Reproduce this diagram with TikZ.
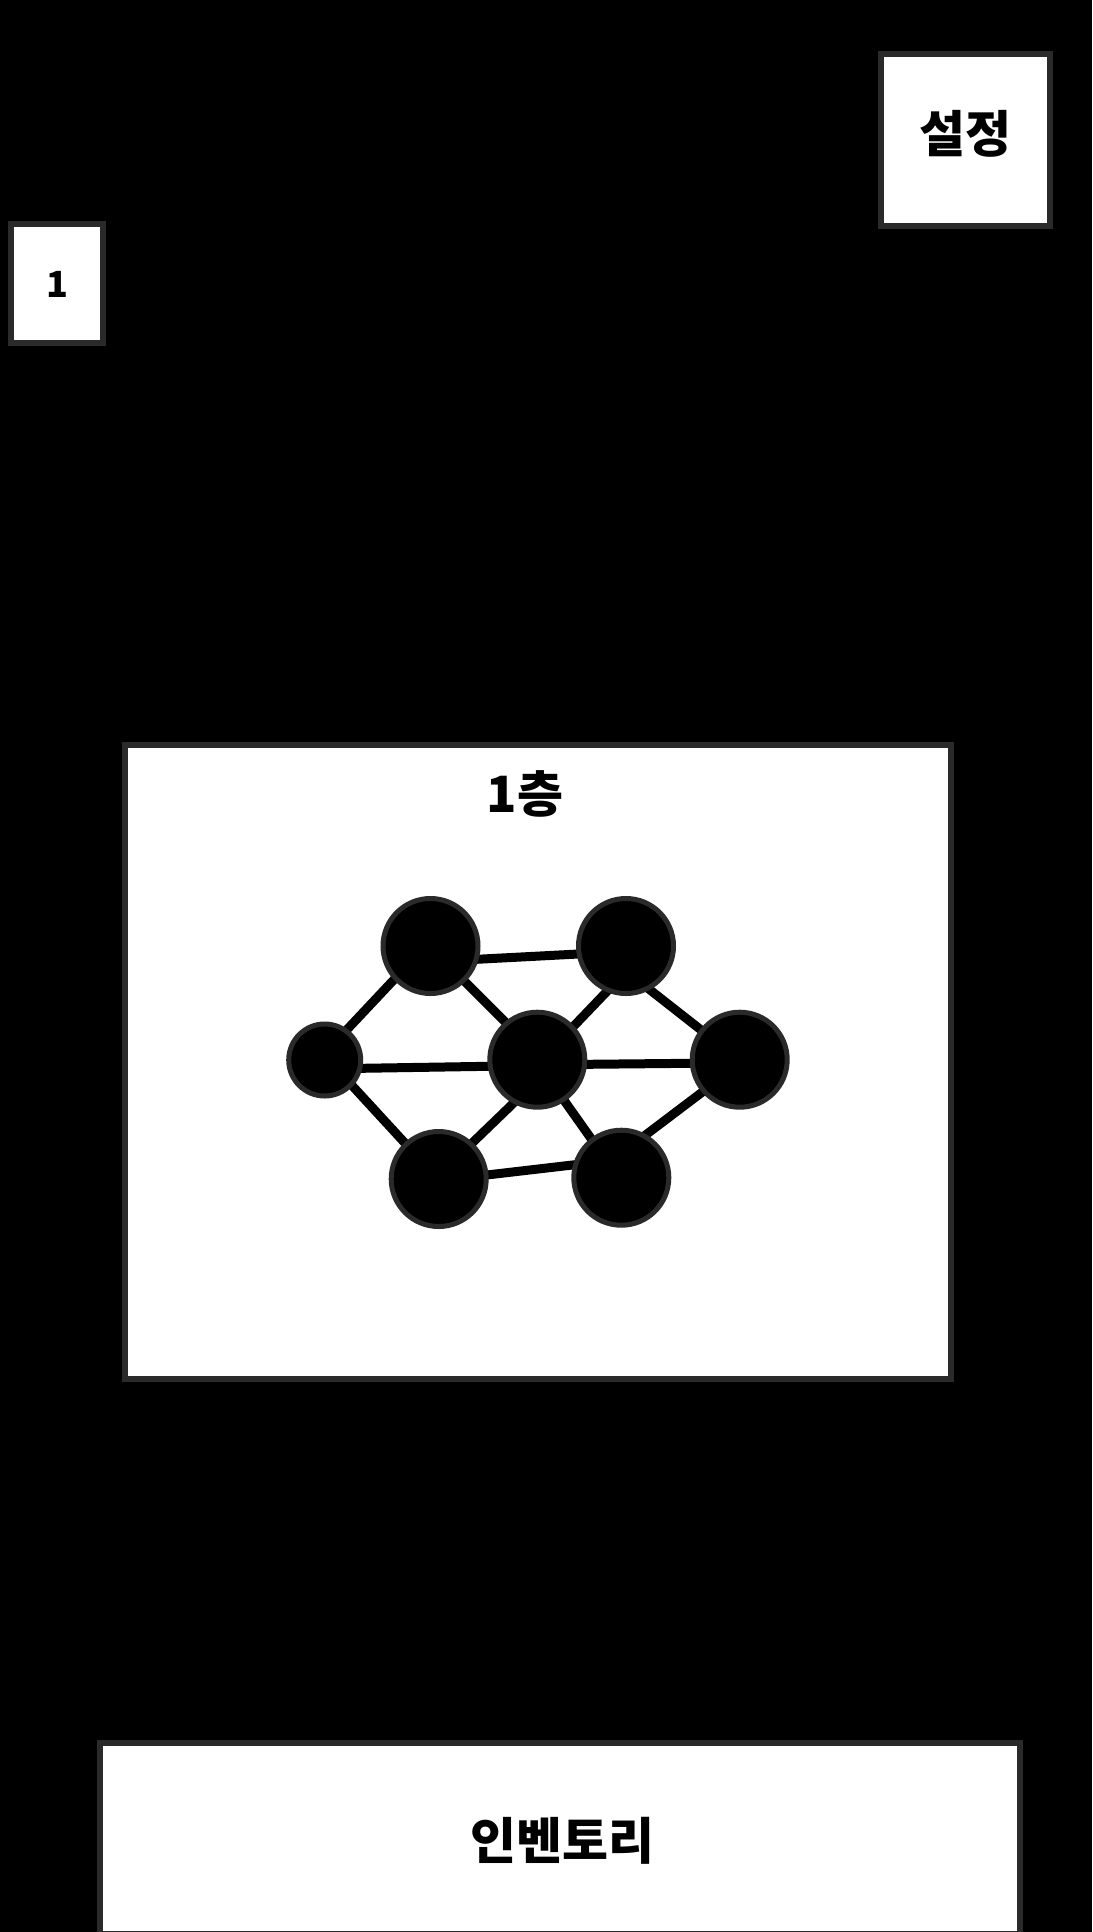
\documentclass[tikz,border=0pt]{standalone}
\usepackage{fontspec}
\newfontfamily\kr{Noto Sans CJK KR}[BoldFont=* Black]
\definecolor{frame}{RGB}{42,42,42}
\tikzset{
  panel/.style={draw=frame, fill=white, line width=3pt, rectangle, inner sep=0pt},
  label/.style={font=\kr\bfseries\fontsize{25pt}{30pt}\selectfont, inner sep=0pt, text=black},
  dot/.style={circle, draw=frame, fill=black, line width=2.5pt, inner sep=0pt, minimum size=47.5pt},
  smalldot/.style={dot, minimum size=36pt},
  link/.style={draw=black, line width=4.5pt, shorten <=-5pt, shorten >=-5pt}
}
\begin{document}
\begin{tikzpicture}[x=0.5pt,y=-0.5pt]
\useasboundingbox (0,0) rectangle (1092,1932);
\fill[black] (0,0) rectangle (1092,1932);
% settings box
\node[panel, minimum width=84.5pt, minimum height=86pt] (settings) at (965.5,140) {};
\node[label] (settingstext) at (965,134) {설정};
% level box
\node[panel, minimum width=46pt, minimum height=59.5pt] (level) at (57,283.5) {};
\node[label, font=\kr\bfseries\fontsize{18pt}{20pt}\selectfont] (leveltext) at (57,284.5) {1};
% map box
\node[panel, minimum width=413pt, minimum height=317pt] (map) at (538,1062) {};
\node[label] (maptitle) at (525,794) {1층};
% edge end points
\coordinate (ab1) at (476.7,959.3);  \coordinate (ab2) at (578.3,954);
\coordinate (ac1) at (396.7,976.7);  \coordinate (ac2) at (345,1031.7);
\coordinate (ad1) at (460,976.7);    \coordinate (ad2) at (510,1026.7);
\coordinate (bd1) at (608.3,990);    \coordinate (bd2) at (570,1030);
\coordinate (be1) at (646.7,987.3);  \coordinate (be2) at (703.3,1031.7);
\coordinate (cd1) at (361.7,1068.3); \coordinate (cd2) at (488.3,1066.3);
\coordinate (de1) at (586.7,1064.3); \coordinate (de2) at (690,1063.3);
\coordinate (cf1) at (350,1083.3);   \coordinate (cf2) at (408.3,1146.7);
\coordinate (df1) at (513.3,1103.3); \coordinate (df2) at (468.3,1146.7);
\coordinate (dg1) at (565,1101.7);   \coordinate (dg2) at (593.3,1141.7);
\coordinate (eg1) at (705,1090);     \coordinate (eg2) at (643.3,1136.7);
\coordinate (fg1) at (486.7,1175);   \coordinate (fg2) at (575,1164.7);
\foreach \e in {ab,ac,ad,bd,be,cd,de,cf,df,dg,eg,fg}
  \draw[link] (\e1) -- (\e2);
% graph nodes
\node[dot] (A) at (430.5,946) {};
\node[dot] (B) at (626,946) {};
\node[smalldot] (C) at (324.7,1060) {};
\node[dot] (D) at (537.3,1059.7) {};
\node[dot] (E) at (739.7,1059.7) {};
\node[dot] (F) at (438.7,1179) {};
\node[dot] (G) at (621.3,1177.7) {};
% inventory box
\node[panel, minimum width=460pt, minimum height=95.5pt] (inventory) at (560,1838.5) {};
\node[label] (inventorytext) at (562,1841) {인벤토리};
\end{tikzpicture}
\end{document}
